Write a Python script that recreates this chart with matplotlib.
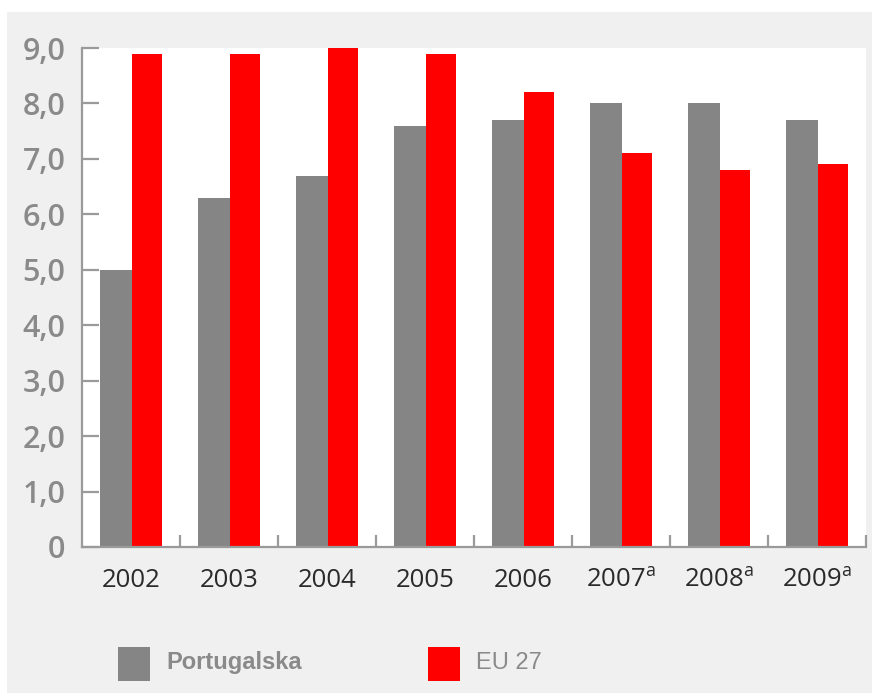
import numpy as np
import matplotlib.pyplot as plt
from matplotlib.patches import Rectangle

plt.rcParams.update(
    {
        "font.family": "Open Sans",
        "mathtext.fontset": "custom",
        "mathtext.rm": "Open Sans",
        "mathtext.it": "Open Sans",
    }
)

years = ["2002", "2003", "2004", "2005", "2006",
         "2007$^{a}$", "2008$^{a}$", "2009$^{a}$"]
portugalska = [5.0, 6.3, 6.7, 7.6, 7.7, 8.0, 8.0, 7.7]
eu27 = [8.9, 8.9, 9.0, 8.9, 8.2, 7.1, 6.8, 6.9]
y_ticks = [0, 1, 2, 3, 4, 5, 6, 7, 8, 9]
y_labels = ["0", "1,0", "2,0", "3,0", "4,0", "5,0", "6,0", "7,0", "8,0", "9,0"]

grey = "#858585"
red = "#ff0000"
axis_col = "#9a9a9a"

fig = plt.figure(figsize=(8.72, 6.93), dpi=100, facecolor="white")
fig.patches.append(
    Rectangle((7 / 872, 0), 1, 1 - 12 / 693, transform=fig.transFigure,
              facecolor="#f0f0f0", edgecolor="none", zorder=-10)
)

ax = fig.add_axes([82 / 872, 146 / 693, 784 / 872, 499 / 693])
ax.set_facecolor("white")

x = np.arange(len(years))
ax.bar(x + 0.18, portugalska, width=0.33, align="edge", color=grey, zorder=2)
ax.bar(x + 0.51, eu27, width=0.31, align="edge", color=red, zorder=2)

ax.set_xlim(0, len(years))
ax.set_ylim(0, 9)

for side in ["top", "right"]:
    ax.spines[side].set_visible(False)
for side in ["left", "bottom"]:
    ax.spines[side].set_color(axis_col)
    ax.spines[side].set_linewidth(1.6)

ax.set_yticks(y_ticks)
ax.set_yticklabels(y_labels, fontweight="semibold")
ax.tick_params(axis="y", direction="in", length=12, width=1.6, color=axis_col,
               pad=12, labelsize=22, labelcolor="#8a8a8a")

ax.set_xticks(x + 0.5)
ax.set_xticklabels(years, fontweight="medium")
ax.set_xticks(np.arange(1, len(years) + 1), minor=True)
ax.tick_params(axis="x", which="major", length=0, pad=15, labelsize=18.5,
               labelcolor="#2a2a2a")
ax.tick_params(axis="x", which="minor", direction="in", length=9, width=1.6,
               color=axis_col)

# legend
fig.patches.append(Rectangle((118 / 872, 12 / 693), 32 / 872, 34 / 693,
                             transform=fig.transFigure, facecolor=grey,
                             edgecolor="none"))
fig.patches.append(Rectangle((428 / 872, 12 / 693), 32 / 872, 34 / 693,
                             transform=fig.transFigure, facecolor=red,
                             edgecolor="none"))
fig.text(166 / 872, 30 / 693, "Portugalska", fontfamily="Liberation Sans",
         fontsize=17, fontweight="bold", color="#8a8a8a", va="center")
fig.text(476 / 872, 30 / 693, "EU 27", fontfamily="Liberation Sans",
         fontsize=17, color="#8a8a8a", va="center")

fig.savefig("out.png", dpi=100, facecolor=fig.get_facecolor())
